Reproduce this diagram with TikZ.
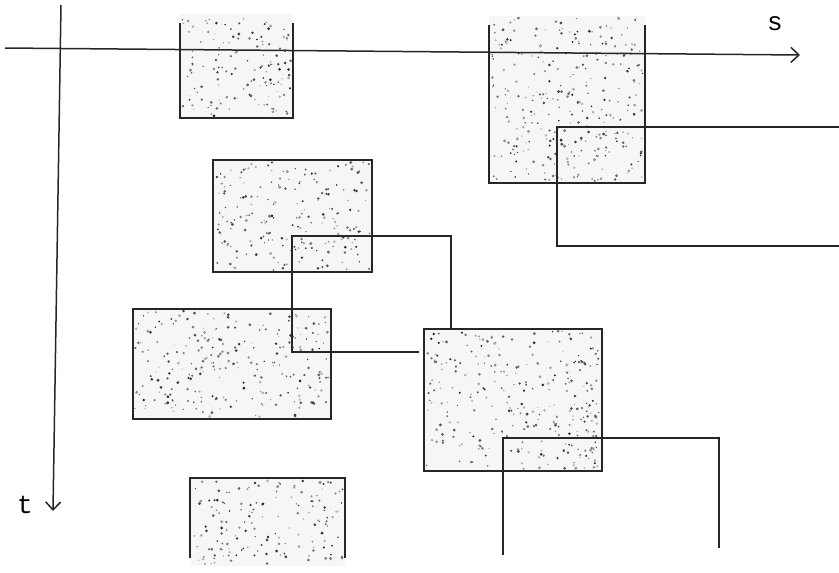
\documentclass[tikz,border=0pt]{standalone}
\usepackage{fontspec}
\newfontfamily\labfont{Liberation Mono}
\usetikzlibrary{arrows.meta}
\newcommand\mystipple[4]{%
  \fill[gray!7] (#1,#2) rectangle (#3,#4);
  \pgfmathtruncatemacro\nd{(#3-#1)/85*(#4-#2)}%
  \foreach \k in {1,...,\nd}{%
    \pgfmathsetmacro\px{#1+2+rnd*(#3-#1-4)}%
    \pgfmathsetmacro\py{#2+2+rnd*(#4-#2-4)}%
    \pgfmathsetmacro\pr{0.6+1.0*rnd}%
    \pgfmathsetmacro\pg{25+60*rnd}%
    \fill[black!\pg] (\px,\py) circle (\pr);
  }%
}
\begin{document}
\begin{tikzpicture}[x=1pt,y=-1pt,
  ln/.style={draw=black!85, line width=1.7pt, line join=miter},
  ax/.style={draw=black!85, line width=1.5pt, -{Straight Barb[length=8pt,width=15pt,line width=1.5pt]}},
  lab/.style={font=\labfont\fontsize{26}{26}\selectfont, inner sep=0pt}]
\useasboundingbox (0,0) rectangle (839,573);
\pgfmathsetseed{4711}
% stippled areas
\mystipple{180}{14}{293}{118}
\mystipple{489}{16}{645}{183}
\mystipple{213}{160}{372}{272}
\mystipple{133}{309}{331}{419}
\mystipple{424}{329}{602}{471}
\mystipple{190}{478}{345}{566}
% box outlines
\draw[ln] (180,23) -- (180,118) -- (293,118) -- (293,23);
\draw[ln] (489,25) -- (489,183) -- (645,183) -- (645,25);
\draw[ln] (213,160) rectangle (372,272);
\draw[ln] (133,309) rectangle (331,419);
\draw[ln] (424,329) rectangle (602,471);
\draw[ln] (190,558) -- (190,478) -- (345,478) -- (345,558);
% open paths
\coordinate (p1a) at (839,127); \coordinate (p1b) at (557,127);
\coordinate (p1c) at (557,246); \coordinate (p1d) at (839,246);
\draw[ln] (p1a) -- (p1b) -- (p1c) -- (p1d);
\coordinate (p2a) at (419,352); \coordinate (p2b) at (292,352);
\coordinate (p2c) at (292,236); \coordinate (p2d) at (451,236);
\coordinate (p2e) at (451,330);
\draw[ln] (p2a) -- (p2b) -- (p2c) -- (p2d) -- (p2e);
\coordinate (p3a) at (503,555); \coordinate (p3b) at (503,438);
\coordinate (p3c) at (719,438); \coordinate (p3d) at (719,548);
\draw[ln] (p3a) -- (p3b) -- (p3c) -- (p3d);
% axes
\coordinate (sx0) at (5,48); \coordinate (sx1) at (800,55);
\coordinate (ty0) at (61,5); \coordinate (ty1) at (53,511);
\draw[ax] (sx0) -- (sx1);
\draw[ax] (ty0) -- (ty1);
\node[lab] (s) at (775,24) {s};
\node[lab] (t) at (25,505) {t};
\end{tikzpicture}
\end{document}
